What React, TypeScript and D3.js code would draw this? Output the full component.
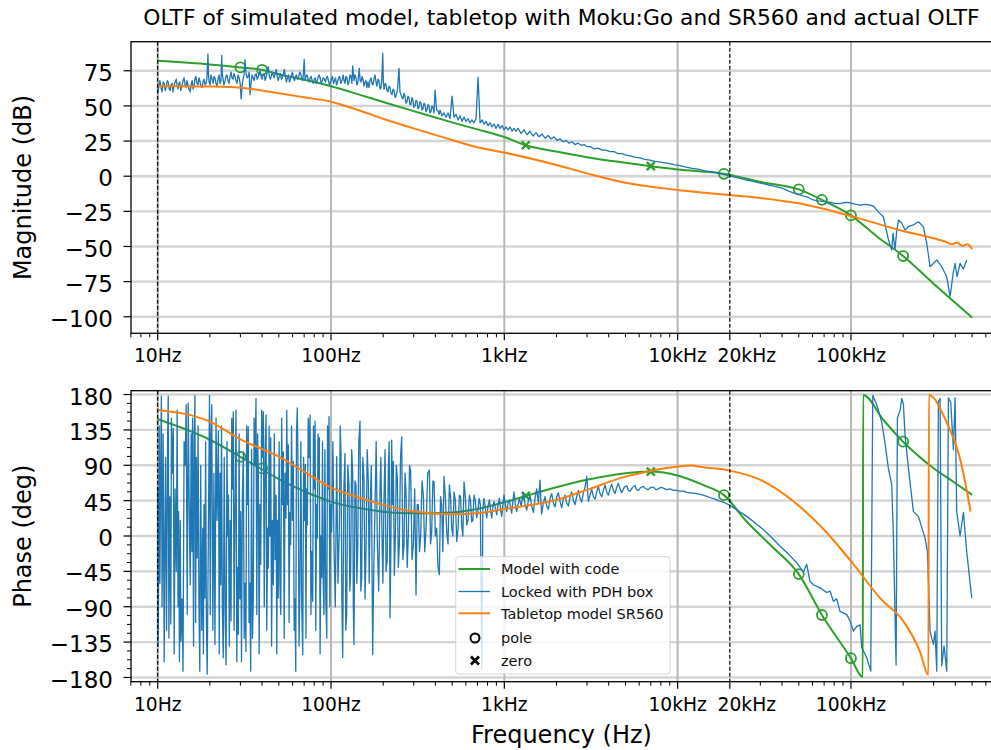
import React from "react";
import * as d3 from "d3";

// ---------------- DATA ----------------
const titleText = "OLTF of simulated model, tabletop with Moku:Go and SR560 and actual OLTF";
const xMajor = [10, 100, 1000, 10000, 20000, 100000];
const xMajorLabels = ["10Hz", "100Hz", "1kHz", "10kHz", "20kHz", "100kHz"];
const magTicks = [-100, -75, -50, -25, 0, 25, 50, 75];
const phaseTicks = [-180, -135, -90, -45, 0, 45, 90, 135, 180];
const dashedFreqs = [10, 20000];

// Model with code (green)
const greenMagFreq = [10, 20, 30, 40, 50, 70, 100, 150, 200, 300, 500, 700, 1000, 1330, 2000, 3000, 5000, 7000, 10000, 18500, 30000, 50000, 68000, 100000, 140000, 200000, 300000, 500000];
const greenMagDb = [82.1, 79.5, 77.4, 75.7, 72.5, 68.6, 64, 57.5, 52.8, 46.3, 38.3, 33.3, 27.9, 22, 17.5, 13.5, 9.5, 7.1, 4.8, 1.7, -4.1, -9.4, -16.8, -27.9, -42.5, -56.8, -76.5, -100.5];
const greenPhFreq = [10, 20, 30, 50, 70, 100, 150, 200, 300, 500, 700, 1000, 1330, 2000, 3000, 5000, 7000, 10000, 14000, 18500, 25000, 35000, 50000, 68000, 100000, 117000, 117600, 154000, 200000, 300000, 388000, 500000];
const greenPhDeg = [148.5, 122.5, 100.8, 72.5, 57, 43.8, 35, 31, 28.8, 30, 34.5, 43, 51, 62, 71.5, 80, 82, 77, 65, 52, 18.4, -13.3, -48.5, -100.5, -155.5, -179.5, 179.5, 147.6, 120, 86.3, 69.3, 52.3];

// pole / zero markers of the model
const poleFreq = [30, 40, 18500, 50000, 68000, 100000, 200000];
const poleMag = [77.4, 75.7, 1.7, -9.4, -16.8, -27.9, -56.8];
const polePh = [100.8, 86, 52, -48.5, -100.5, -155.5, 120];
const zeroFreq = [1330, 7000];
const zeroMag = [22, 7.1];
const zeroPh = [51, 82];

// Tabletop model SR560 (orange)
const orangeMagFreq = [10, 20, 30, 50, 70, 100, 150, 200, 300, 500, 700, 1000, 2000, 3000, 5000, 10000, 20000, 30000, 50000, 100000, 200000, 300000, 350000, 380000, 410000, 440000, 470000, 500000];
const orangeMagDb = [64.2, 63.8, 63, 59, 56.1, 53, 46.2, 40.9, 34, 25.8, 20.6, 16.8, 8, 2, -4.6, -9.8, -13.4, -15.5, -19.3, -28.4, -39, -44.2, -46.5, -48.3, -47.2, -49.6, -48.4, -52];
const orangePhFreq = [10, 20, 30, 50, 70, 100, 150, 200, 300, 500, 700, 1000, 2000, 3000, 5000, 7000, 10000, 12000, 14000, 20000, 30000, 50000, 70000, 100000, 150000, 200000, 250000, 280000, 281500, 355000, 430000, 490000];
const orangePhDeg = [160.4, 145.5, 123, 101, 82, 61.5, 48.1, 39.6, 31.1, 27.8, 29, 34.4, 46, 58.7, 75.6, 82.8, 88.3, 89.6, 87.5, 83.2, 71.4, 38.5, 7.9, -32, -81, -108, -147, -177, 179.5, 145.5, 94.7, 31.1];

// Locked with PDH box (blue, measured) — magnitude
const blueMagFreq = [10, 10.05, 10.1, 10.2, 10.3, 10.45, 10.6, 10.75, 10.9, 11.05, 11.2, 11.35, 11.5, 11.65, 11.8, 11.95, 12.1, 12.25, 12.4, 12.6, 12.8, 12.95, 13.1, 13.25, 13.4, 13.6, 13.8, 14.0, 14.2, 14.4, 14.6, 14.75, 14.9, 15.15, 15.4, 15.6, 15.8, 16.0, 16.2, 16.4, 16.6, 16.85, 17.1, 17.3, 17.5, 17.75, 18.0, 18.25, 18.5, 18.75, 19.0, 19.25, 19.5, 19.65, 19.8, 20.05, 20.3, 20.6, 20.9, 21.15, 21.4, 21.7, 22.0, 22.3, 22.6, 22.9, 23.2, 23.4, 23.6, 23.8, 24.1, 24.4, 24.75, 25.1, 25.45, 25.8, 26.15, 26.5, 26.85, 27.2, 27.55, 27.9, 28.3, 28.7, 29.1, 29.5, 29.9, 30.3, 30.7, 31.1, 31.5, 31.9, 32.35, 32.8, 33.25, 33.7, 33.9, 34.1, 34.55, 35.0, 35.5, 36.0, 36.5, 37.0, 37.45, 37.9, 38.45, 39.0, 39.5, 40.0, 40.55, 41.1, 41.7, 42.3, 42.85, 43.4, 44.0, 44.6, 45.2, 45.8, 46.4, 47.0, 47.65, 48.3, 48.95, 49.6, 50.3, 51.0, 51.7, 52.4, 53.1, 53.8, 54.55, 55.3, 56.05, 56.8, 57.55, 58.3, 59.1, 59.9, 60.75, 61.6, 62.4, 63.2, 64.1, 65.0, 65.9, 66.8, 67.7, 68.6, 69.3, 70.0, 70.45, 70.9, 71.85, 72.8, 73.8, 74.8, 75.8, 76.8, 77.85, 78.9, 80.0, 81.1, 82.2, 83.3, 84.45, 85.6, 86.75, 87.9, 89.1, 90.3, 91.55, 92.8, 94.05, 95.3, 96.6, 97.9, 99.25, 100.6, 102.0, 103.4, 104.8, 106.2, 107.65, 109.1, 110.6, 112.1,
  114.0, 115.8, 117.5, 119.0, 120.4, 122.0, 123.6, 125.3, 127.0, 128.7, 130.4, 132.0, 133.4, 135.7, 137.5, 139.4, 141.0, 142.5, 144.0, 145.6, 147.2, 148.9, 150.9, 152.9, 155.0, 157.0, 159.1, 161.2, 163.3, 165.5, 167.7, 170.0, 172.2, 174.5, 177.0, 179.4, 181.8, 184.2, 186.7, 189.2, 191.8, 194.4, 196.6, 198.8, 200.5, 202.3, 205.0, 207.7, 210.5, 213.3, 216.1, 219.0, 221.9, 224.9, 228.0, 231.0, 234.1, 237.2, 242.0, 246.7, 250.0, 253.3, 256.7, 260.1, 263.6, 267.2, 270.8, 274.4, 278.0, 281.7, 285.5, 289.3, 293.2, 297.1, 301.1, 305.2, 309.3, 313.4, 317.6, 321.8, 326.1, 330.5, 335.0, 339.4, 344.0, 348.5, 353.2, 357.9, 362.7, 367.6, 372.5, 377.4, 382.5, 387.6, 392.8, 398.1, 407.0, 416.0, 420.6, 425.2, 436.6, 448.8, 460.7, 473.3, 486.1, 499.2, 512.7, 526.5, 540.7, 555.3, 570.3, 585.3, 600.7, 616.9, 633.4, 650.6, 668.6, 686.7, 705.3, 724.3, 746.4, 763.6, 784.2, 805.4, 827, 849.3, 872.1, 895.7, 919.8, 944.6, 970, 995.9, 1023, 1050, 1079, 1108, 1137, 1168, 1199,
  1249, 1300, 1352, 1407, 1464, 1524, 1586, 1651, 1718, 1788, 1860, 1936, 2014, 2096, 2182, 2270, 2362, 2458, 2559, 2662, 2771, 2883, 3000, 3122, 3293, 3473, 3663, 3863, 4073, 4296, 4531, 4779, 5040, 5313, 5678, 6069, 6484, 6931, 7406, 7914, 8458, 9041, 9661, 10320, 11180, 12110, 13120, 14190, 15380, 16660, 18040, 19540, 21160, 22920, 24820, 26880, 29110, 31520, 34140, 36970, 40040, 43360, 46960, 52910, 56560, 60430, 64600, 69310, 74770, 80960, 86500, 92480, 98810, 105600, 112900, 122200, 134700, 143300, 153800, 164400, 171900, 174900, 179700, 183800, 188200, 196400, 205200, 214500, 229100, 244900, 261600, 273700, 286000, 312600, 334100, 357000, 373100, 389800, 398600, 409500, 426100, 445200, 465700, 480200, 499700];
const blueMagDb = [64, 60, 62, 66, 68, 63, 60, 67, 66, 61, 63, 68, 67, 62, 61, 65, 66, 60, 64, 67, 69, 64, 62, 66, 67, 61, 64, 68, 70, 65, 63, 68, 66, 62, 60, 65, 68, 62, 64, 69, 71, 66, 65, 70, 68, 64, 63, 67, 69, 65, 66, 70, 87, 72, 67, 65, 72, 69, 66, 71, 70, 66, 64, 69, 72, 66, 68, 86, 72, 70, 65, 67, 71, 72, 68, 66, 71, 74, 70, 69, 73, 71, 68, 66, 72, 70, 66, 55, 65, 69, 72, 83, 73, 70, 71, 74, 66, 58, 66, 72, 70, 68, 72, 73, 69, 70, 73, 75, 71, 69, 72, 73, 68, 71, 74, 78, 72, 69, 71, 74, 72, 70, 73, 76, 71, 68, 71, 73, 69, 70, 73, 76, 71, 67, 70, 72, 67, 69, 72, 74, 70, 68, 71, 72, 69, 70, 74, 73, 70, 68, 73, 83, 74, 69, 71, 72, 69, 67, 70, 71, 68, 66, 69, 70, 66, 68, 71, 72, 69, 66, 68, 70, 69, 67, 70, 71, 68, 65, 67, 69, 71, 66, 68, 70, 65, 67, 70, 71,
  66, 68, 72, 68, 66, 71, 70, 65, 67, 72, 71, 66, 78.4, 68, 72, 70, 65, 66, 71, 76.7, 68, 67, 71, 69, 64, 67, 68, 63, 67, 63, 68, 70, 66, 65, 69, 72, 67, 64, 69, 68, 62, 63, 70, 87.4, 66, 62, 66, 65, 61, 60, 64, 63, 59, 58, 62, 61, 56, 57, 62, 76.7, 60, 58, 56, 55, 59, 57, 52, 53, 57, 56, 51, 51, 56, 54, 49, 50, 54, 53, 48, 49, 53, 52, 47, 48, 52, 51, 46, 47, 51, 50, 45, 46, 50, 49, 45, 61.3, 47, 46, 44, 47, 43, 45, 42, 45, 41, 57, 42, 44, 40, 43, 39, 42, 39, 41, 38, 40, 38, 41, 70.4, 38, 40, 37, 39, 36, 38, 35, 37, 34, 37, 34, 36, 33, 35, 33, 35, 32, 34,
  32, 34, 30.5, 33, 29.5, 32, 28.5, 31, 28, 30, 27, 29, 26.5, 28, 25.5, 26.5, 24.5, 25.5, 23.5, 24.5, 22.5, 23.5, 22, 22.5, 21, 21, 19.5, 20, 18.5, 18.5, 17.5, 17.5, 16, 16, 15, 14.5, 13.5, 13, 12, 11.5, 10.5, 10, 9.5, 9, 8, 7.5, 6.5, 5.5, 5, 4, 3.2, 2.5, 1.5, 0.5, -0.5, -1.5, -2.7, -3.5, -4.5, -5.5, -6.5, -7.5, -8.5, -10.5, -12, -14, -15, -16.9, -17.5, -18.1, -18.5, -19.3, -19.5, -18.6, -18.9, -19.8, -20.5, -20, -21.2, -25.2, -28.8, -45, -52.5, -40.6, -52, -38.3, -31.2, -33.5, -38.3, -35.9, -34.7, -32.4, -35.9, -47.7, -64.4, -59.6, -64.4, -71.5, -85.7, -68, -62, -71.5, -62, -66, -59.6];

// Locked with PDH box (blue, measured) — phase
const bluePhFreq = [10.0, 10.05, 10.1, 10.2, 10.3, 10.4, 10.5, 10.6, 10.75, 10.9, 11.0, 11.1, 11.25, 11.4, 11.5, 11.6, 11.75, 11.9, 12.0, 12.15, 12.3, 12.45, 12.6, 12.8, 12.95, 13.1, 13.2, 13.35, 13.5, 13.6, 13.8, 14.0, 14.2, 14.4, 14.6, 14.8, 15.0, 15.2, 15.4, 15.6, 15.75, 15.9, 16.1, 16.25, 16.4, 16.55, 16.7, 16.9, 17.1, 17.3, 17.5, 17.7, 17.95, 18.2, 18.35, 18.5, 18.7, 18.9, 19.1, 19.3, 19.5, 19.7, 19.9, 20.1, 20.3, 20.5, 20.8, 21.1, 21.4, 21.7, 22.0, 22.4, 22.65, 22.9, 23.1, 23.35, 23.6, 23.9, 24.2, 24.5, 24.8, 25.1, 25.35, 25.6, 25.9, 26.2, 26.5, 26.75, 27.0, 27.3, 27.6, 27.95, 28.3, 28.6, 28.9, 29.2, 29.5, 29.8, 30.1, 30.45, 30.8, 31.2, 31.55, 31.9, 32.3, 32.6, 32.95, 33.3, 33.65, 34.0, 34.4, 34.8, 35.2, 35.6, 36.0, 36.45, 36.9, 37.3, 37.7, 38.1, 38.5, 38.9, 39.3, 39.8, 40.2, 40.7, 41.2, 41.7, 42.2, 42.6, 43.1, 43.5, 43.95, 44.4, 44.9, 45.4, 45.9, 46.5, 47.05, 47.6, 48.2, 48.65, 49.1, 49.6, 50.2, 50.7, 51.3, 51.9, 52.5, 53.1, 53.7, 54.3, 55.0, 55.55, 56.1, 56.7, 57.3, 57.9, 58.5, 59.2, 59.9, 60.6, 61.3, 61.9, 62.6, 63.2, 63.9, 64.7, 65.4, 66.2, 67.0, 67.8, 68.7, 69.5, 70.3, 71.1, 71.7, 72.3, 73.0, 73.9, 74.8, 75.7, 76.6, 77.5, 78.4, 79.2, 80.0, 80.9, 81.7, 82.5, 83.4, 84.1, 84.8, 85.6, 86.5, 87.5, 88.4, 89.3, 90.2, 91.1, 92.2, 93.3, 94.5, 95.5, 96.4, 97.4, 98.5, 99.7,
  100.9, 102.5, 104.1, 105.9, 107.8, 109.7, 111.7, 113.0, 114.2, 115.5, 116.8, 118.6, 120.4, 121.7, 123.1, 125.0, 127.0, 128.4, 129.8, 131.6, 133.4, 134.5, 135.7, 137.5, 139.4, 140.9, 142.5, 144.7, 147.0, 148.6, 150.3, 152.6, 155.0, 157.1, 159.2, 161.7, 164.2, 166.0, 167.9, 170.9, 173.9, 176.6, 179.4, 182.2, 185.1, 188.4, 191.8, 193.9, 196.1, 199.2, 202.3, 205.0, 207.7, 210.9, 214.2, 216.6, 219.0, 221.4, 223.9, 226.4, 228.9, 232.0, 235.1, 238.2, 241.4, 244.6, 247.9, 251.8, 255.7, 259.7, 263.8, 267.3, 270.9, 275.1, 279.4, 283.8, 288.2, 293.4, 298.6, 304.0, 309.4, 314.2, 319.1, 324.1, 329.1, 335.0, 341.0, 347.2, 353.4, 361.3, 369.4, 375.2, 381.0, 387.0, 393.0, 400.0, 407.0, 414.4, 421.8, 428.4, 435.1, 441.9, 448.8, 456.9, 465.0, 473.4, 481.8, 489.4, 497.1, 504.9, 512.7, 521.9, 531.2, 540.8, 550.4, 558.9, 567.5, 576.4, 585.3, 595.9, 606.5, 617.4, 628.4, 638.3, 648.2, 658.4, 668.6, 680.6, 692.7, 703.6, 714.5, 727.4, 740.3, 752.0, 763.6, 777.4, 791.2, 805.5, 819.8, 832.7, 845.6, 858.8, 872.1, 887.8, 903.6, 919.8, 936.1, 950.8, 965.6, 980.7, 995.9, 1014, 1032, 1050, 1069, 1086, 1103, 1120, 1137, 1157, 1178, 1200, 1221,
  1250, 1288, 1317, 1346, 1376, 1407, 1439, 1471, 1504, 1538, 1572, 1607, 1625, 1643, 1680, 1718, 1756, 1795, 1836, 1877, 1919, 1962, 2006, 2050, 2096, 2143, 2191, 2240, 2291, 2342, 2394, 2447, 2503, 2559, 2616, 2674, 2734, 2795, 2858, 2922, 2988, 3054, 3122, 3192, 3264, 3337, 3412, 3488, 3566, 3646, 3728, 3811, 3897, 3984, 4073, 4164, 4257, 4353, 4451, 4550, 4652, 4756, 4918, 5083, 5197, 5313, 5492, 5676, 5804, 5934, 6134, 6341, 6558, 6779, 7008, 7244, 7490, 7743, 8005, 8275, 8650, 9039, 9450, 9876, 10320, 10790, 11280, 11790, 12330, 12880, 13460, 14070, 14710, 15380, 16080, 16800, 17560, 18350, 19180, 20060, 22410, 25030, 27960, 31240, 34900, 38990, 43550, 48650, 53160, 55560, 58070,
  60700, 66320, 72470, 75750, 79170, 82770, 86500, 94540, 98810, 103300, 108000, 112900, 115400, 123300, 130100, 133600, 140800, 150500, 157300, 164400, 171900, 175700, 182100, 185400, 192100, 196300, 200700, 205200, 214600, 229300, 245000, 267700, 276100, 286100, 292500, 299000, 305700, 312600, 319600, 326800, 334100, 344600, 357000, 365000, 376500, 390100, 398800, 407700, 426200, 445600, 465600, 497500];
const bluePhDeg = [61, -140, -104, 140, -60, 90, 178, -90, 130, -160, -20, 100, -120, 120, 178, -130, 50, -112, 150, 80, 137, -150, 60, -45, 160, -90, 31, -160, 20, -134, -80, -172, 120, 90, 167, -100, 169, 40, -62, 130, -20, 150, -140, 120, 179, -110, 100, -28, 140, -90, -172, 90, -120, 10, -150, 40, -79, 120, -110, -176, -60, 60, 179, -100, 130, 167, -120, 80, -138, 150, 20, 133, -150, 80, -62, 140, -90, -155, 100, -100, -164, 120, 0, 52, -140, 20, -108, 150, 60, 158, -120, 40, 160, -160, -40, -125, 130, -80, 31, -160, 50, 107, -130, -60, -147, 140, 40, 139, -110, -60, -172, 110, -130, -83, 150, 90, 175, -100, 130, 69, -150, 40, -36, 160, 100, 158, -90, 110, 154, -120, 10, -41, 140, 0, 125, -140, 20, -62, 130, -30, 52, -150, 20, -79, 120, -60, -100, 150, 40, 107, -130, 80, 23, 160, 40, 116, -110, 30, -11, 140, 20, 95, -120, -80, -172, 130, 163, 60, -140, -58, 120, -90, -151, 100, 20, 91, -130, 60, 14, 150, 100, 154, -100, -20, -83, 140, 60, 146, -120, 40, -3, 130, 70, 125, -150, 0, -53, 120, -60, -100, 110, -80, -130, 140, 60, 152, -90, 40,
  5, 120, -15, -90, 101, -60, 10, 140, 105, -80, -155, 60, 105, -120, -100, 90, 65, -70, -45, 110, 80, -90, -138, 70, 65, -60, -20, 120, 146, -70, -53, 100, 73, -80, -20, 110, 69, -60, 31, 90, -151, -40, 35, 120, -11, -70, 61, 100, 23, -60, 52, 110, -45, -30, 86, 120, -104, -20, 122, 40, 95, -50, 1, 90, 73, -40, -11, 100, 126, -30, -11, 80, 56, -40, 1, 90, 82, -30, -11, 60, -75, 40, 40, -20, 1, 70, 52, -20, 10, 80, 84, -10, 5, 70, 69, 0, 10, -40, -49, 50, 40, -20, 76, 50, 5, -10, 65, 50, 10, 0, 56, 45, -7, 10, 52, 50, 14, 0, 69, 50, 14, 20, 52, 45, 18, 20, 52, 45, 23, 30, 48, 40, -170, 35, 48, 35, 23, 38, 46, 33, 23, 37, 44, 35, 27, 40, 48, 34, 25, 40, 52, 40, 31, 42, 46, 36, 29, 44, 56, 40, 31, 40, 48,
  38, 55, 40, 33, 45, 52, 38, 30, 48, 60, 42, 71, 45, 28, 42, 50, 38, 34, 48, 54, 42, 37, 50, 55, 44, 36, 47, 52, 42, 38, 50, 56, 45, 40, 50, 58, 48, 43, 55, 62, 76, 44, 52, 60, 50, 47, 56, 63, 54, 50, 58, 65, 56, 52, 60, 66, 58, 54, 62, 67, 60, 55, 62, 64, 58, 57, 62, 64, 59, 58, 62, 63, 60, 59, 62, 62, 59, 60, 62, 61, 59, 60, 58, 58, 57, 57, 55.5, 55, 54.5, 54, 53, 52, 50.5, 49, 47.5, 46, 44.5, 43, 41, 39, 32, 25, 17, 8, -2, -13, -23, -34, -46, -36, -58,
  -62, -66, -72, -70, -83, -80, -96, -100, -108, -121, -115, -113, -142, -155, -172, 179, 167, 145, 118, 86, 65, 0, -164, 150, 160, 175, 168, 128, 86, 31, 25, -3, -20, -121, -130, -138, -121, -172, 171, 175, -165, -140, -172, 176, 170, 110, 176, 31, 0, 30, -20, -79];

const legendLabels = ["Model with code", "Locked with PDH box", "Tabletop model SR560", "pole", "zero"];

// ---------------- STYLE / LAYOUT ----------------
const C_GREEN = "#2ca02c";
const C_BLUE = "#1f77b4";
const C_ORANGE = "#ff7f0e";
const FONT = "DejaVu Sans, sans-serif";

const AX_L = 131, AX_R = 992;
const TOP = { y0: 41.7, y1: 333.3 };
const BOT = { y0: 390.7, y1: 681.7 };

function zip(a: number[], b: number[]): [number, number][] {
  const n = Math.min(a.length, b.length);
  return a.slice(0, n).map((v, i) => [v, b[i]] as [number, number]);
}

export default function App() {
  const x = d3.scaleLog().domain([10, 500000]).range([157.7, 972.1]);
  const yMag = d3.scaleLinear().domain([-111.76, 95.68]).range([TOP.y1, TOP.y0]);
  const yPh = d3.scaleLinear().domain([-185.4, 184.9]).range([BOT.y1, BOT.y0]);

  const xMinor: number[] = [];
  [1, 10, 100, 1000, 10000, 100000].forEach((dec) => {
    for (let m = 2; m <= 9; m++) {
      const v = m * dec;
      if (v >= 7 && x(v) <= AX_R && !xMajor.includes(v)) xMinor.push(v);
    }
  });
  const phMinor: number[] = [];
  for (let v = -180; v <= 180; v += 11.25) if (Math.abs(v % 45) > 1e-6) phMinor.push(v);

  const mkLine = (y: any, smooth: boolean) =>
    d3.line<[number, number]>()
      .x((d) => x(d[0]))
      .y((d) => y(d[1]))
      .curve(smooth ? d3.curveMonotoneX : d3.curveLinear);

  const gMag = mkLine(yMag, true)(zip(greenMagFreq, greenMagDb)) || "";
  const oMag = mkLine(yMag, true)(zip(orangeMagFreq, orangeMagDb)) || "";
  const bMag = mkLine(yMag, false)(zip(blueMagFreq, blueMagDb)) || "";
  const gPh = mkLine(yPh, true)(zip(greenPhFreq, greenPhDeg)) || "";
  const oPh = mkLine(yPh, true)(zip(orangePhFreq, orangePhDeg)) || "";
  const bPh = mkLine(yPh, false)(zip(bluePhFreq, bluePhDeg)) || "";

  const xMark = (cx: number, cy: number, r: number, color: string, key: string, w = 2.2) => (
    <g key={key} stroke={color} strokeWidth={w} strokeLinecap="butt">
      <line x1={cx - r} y1={cy - r} x2={cx + r} y2={cy + r} />
      <line x1={cx - r} y1={cy + r} x2={cx + r} y2={cy - r} />
    </g>
  );

  const panel = (
    box: { y0: number; y1: number },
    y: any,
    yTicks: number[],
    yMinor: number[],
    clipId: string,
    lines: { g: string; b: string; o: string },
    markY: { pole: number[]; zero: number[] }
  ) => (
    <g>
      {yTicks.map((t) => (
        <line key={"hg" + t} x1={AX_L} x2={AX_R} y1={y(t)} y2={y(t)} stroke="#d4d4d4" strokeWidth={2.4} />
      ))}
      {[10, 100, 1000, 10000, 100000].map((t) => (
        <line key={"vg" + t} x1={x(t)} x2={x(t)} y1={box.y0} y2={box.y1} stroke="#b8b8b8" strokeWidth={2} />
      ))}
      <g clipPath={`url(#${clipId})`}>
        <path d={lines.g} fill="none" stroke={C_GREEN} strokeWidth={2} />
        {poleFreq.map((f, i) => (
          <circle key={"p" + i} cx={x(f)} cy={y(markY.pole[i])} r={5} fill="none" stroke={C_GREEN} strokeWidth={1.8} />
        ))}
        {zeroFreq.map((f, i) => xMark(x(f), y(markY.zero[i]), 4, C_GREEN, "z" + i, 2.4))}
        <path d={lines.b} fill="none" stroke={C_BLUE} strokeWidth={1.3} strokeLinejoin="round" />
        <path d={lines.o} fill="none" stroke={C_ORANGE} strokeWidth={2} />
      </g>
      {dashedFreqs.map((f) => (
        <line key={"d" + f} x1={x(f)} x2={x(f)} y1={box.y0} y2={box.y1} stroke="#000" strokeWidth={1.2} strokeDasharray="4,2" />
      ))}
      <rect x={AX_L} y={box.y0} width={AX_R - AX_L} height={box.y1 - box.y0} fill="none" stroke="#000" strokeWidth={1.3} />
      {xMajor.map((t, i) => (
        <g key={"xt" + t}>
          <line x1={x(t)} x2={x(t)} y1={box.y1} y2={box.y1 + 7} stroke="#000" strokeWidth={1.2} />
          <text x={x(t)} dx={t === 20000 ? 17 : 0} y={box.y1 + 29} textAnchor="middle" fontSize={18.7} fill="#000">{xMajorLabels[i]}</text>
        </g>
      ))}
      {xMinor.map((t) => (
        <line key={"xm" + t} x1={x(t)} x2={x(t)} y1={box.y1} y2={box.y1 + 4} stroke="#000" strokeWidth={1} />
      ))}
      {yTicks.map((t) => (
        <g key={"yt" + t}>
          <line x1={AX_L - 7.5} x2={AX_L} y1={y(t)} y2={y(t)} stroke="#000" strokeWidth={1.2} />
          <text x={113} y={y(t)} dy="0.44em" textAnchor="end" fontSize={23} fill="#000">
            {t < 0 ? "\u2212" + Math.abs(t) : String(t)}
          </text>
        </g>
      ))}
      {yMinor.map((t) => (
        <line key={"ym" + t} x1={AX_L - 4} x2={AX_L} y1={y(t)} y2={y(t)} stroke="#000" strokeWidth={1} />
      ))}
    </g>
  );

  const LX = 455.7, LY = 556.7, LW = 214.3, LH = 117.3;
  const rowY = [569, 591.5, 613.3, 638, 660.5];

  return (
    <svg width={991} height={750} style={{ position: "absolute", left: 0, top: 0, background: "#fff" }} fontFamily={FONT}>
      <defs>
        <clipPath id="clipTop"><rect x={AX_L} y={TOP.y0} width={AX_R - AX_L} height={TOP.y1 - TOP.y0} /></clipPath>
        <clipPath id="clipBot"><rect x={AX_L} y={BOT.y0} width={AX_R - AX_L} height={BOT.y1 - BOT.y0} /></clipPath>
      </defs>
      <rect x={0} y={0} width={991} height={750} fill="#fff" />
      <text x={561.5} y={25} textAnchor="middle" fontSize={21.8} fill="#000">{titleText}</text>
      {panel(TOP, yMag, magTicks, [], "clipTop", { g: gMag, b: bMag, o: oMag }, { pole: poleMag, zero: zeroMag })}
      {panel(BOT, yPh, phaseTicks, phMinor, "clipBot", { g: gPh, b: bPh, o: oPh }, { pole: polePh, zero: zeroPh })}
      <text transform={`translate(31,${(TOP.y0 + TOP.y1) / 2}) rotate(-90)`} textAnchor="middle" fontSize={24} fill="#000">Magnitude (dB)</text>
      <text transform={`translate(31,${(BOT.y0 + BOT.y1) / 2}) rotate(-90)`} textAnchor="middle" fontSize={24} fill="#000">Phase (deg)</text>
      <text x={561.5} y={742.5} textAnchor="middle" fontSize={24} fill="#000">Frequency (Hz)</text>
      <g>
        <rect x={LX} y={LY} width={LW} height={LH} rx={3} fill="#fff" fillOpacity={0.8} stroke="#cccccc" strokeOpacity={0.8} strokeWidth={1} />
        {[C_GREEN, C_BLUE, C_ORANGE].map((c, i) => (
          <line key={"lh" + i} x1={458.5} x2={490} y1={rowY[i]} y2={rowY[i]} stroke={c} strokeWidth={i === 1 ? 1.3 : 2} />
        ))}
        <circle cx={475} cy={rowY[3]} r={4.5} fill="none" stroke="#000" strokeWidth={2} />
        {xMark(475, rowY[4], 4, "#000", "lz", 2.6)}
        {legendLabels.map((s, i) => (
          <text key={"lt" + i} x={501} y={rowY[i]} dy="0.36em" fontSize={14.5} fill="#111">{s}</text>
        ))}
      </g>
    </svg>
  );
}
